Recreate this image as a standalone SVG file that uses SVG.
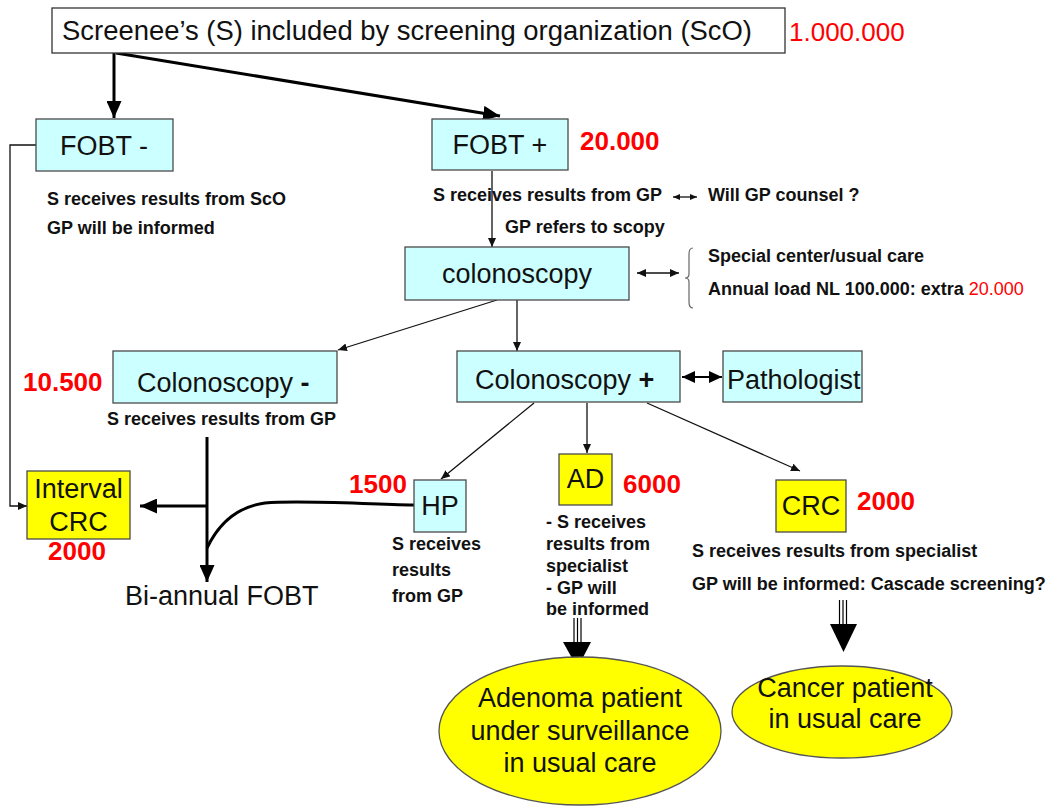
<svg xmlns="http://www.w3.org/2000/svg" width="1053" height="806" viewBox="0 0 1053 806">
<style>
.box{fill:#ccffff;stroke:#4a4a4a;stroke-width:1.3}
.ybox{fill:#ffff00;stroke:#4a4a4a;stroke-width:1.3}
.ell{fill:#ffff00;stroke:#555;stroke-width:1.3}
.lbl{font-family:"Liberation Sans",Arial,sans-serif;font-size:27px;fill:#111}
.sm{font-family:"Liberation Sans",Arial,sans-serif;font-size:18px;font-weight:bold;fill:#111}
.num{font-family:"Liberation Sans",Arial,sans-serif;font-size:26px;font-weight:bold;fill:#ff0000}
.thin{fill:none;stroke:#111;stroke-width:1.3}
.thick{fill:none;stroke:#000;stroke-width:3}
.mid{fill:none;stroke:#000;stroke-width:2}
</style>
<defs>
<marker id="ah" markerUnits="userSpaceOnUse" viewBox="0 0 9 8" refX="9" refY="4" markerWidth="9" markerHeight="8" orient="auto-start-reverse"><path d="M0,0 L9,4 L0,8 z" fill="#111"/></marker>
<marker id="ahs" markerUnits="userSpaceOnUse" viewBox="0 0 7 6" refX="7" refY="3" markerWidth="7" markerHeight="6" orient="auto-start-reverse"><path d="M0,0 L7,3 L0,6 z" fill="#111"/></marker>
<marker id="ahm" markerUnits="userSpaceOnUse" viewBox="0 0 13 12" refX="13" refY="6" markerWidth="13" markerHeight="12" orient="auto-start-reverse"><path d="M0,0 L13,6 L0,12 z" fill="#000"/></marker>
<marker id="ahb" markerUnits="userSpaceOnUse" viewBox="0 0 17 15" refX="17" refY="7.5" markerWidth="17" markerHeight="15" orient="auto"><path d="M0,0 L17,7.5 L0,15 z" fill="#000"/></marker>
</defs>

<g id="connectors">
<path class="thick" d="M114,53 V118" marker-end="url(#ahb)"/>
<path class="thick" d="M116,53 L500,116" marker-end="url(#ahb)"/>
<path class="thin" d="M36,145 H10 V506 H27" marker-end="url(#ah)"/>
<path class="thin" d="M492,171 V247" marker-end="url(#ah)"/>
<path class="thin" d="M673,197 H697" marker-start="url(#ahs)" marker-end="url(#ahs)"/>
<path class="thin" d="M637,273 H679" marker-start="url(#ah)" marker-end="url(#ah)"/>
<path class="thin" d="M497,300 L338,350" marker-end="url(#ah)"/>
<path class="thin" d="M517,300 V351" marker-end="url(#ah)"/>
<path class="mid" d="M682,377 H722" marker-start="url(#ahm)" marker-end="url(#ahm)"/>
<path class="thin" d="M534,403 L441,479" marker-end="url(#ah)"/>
<path class="thin" d="M587,403 V453" marker-end="url(#ah)"/>
<path class="thin" d="M647,403 L800,471" marker-end="url(#ah)"/>
<path class="thick" d="M207,437 V582" marker-end="url(#ahb)"/>
<path class="thick" d="M207,506 H140" marker-end="url(#ahb)"/>
<path class="thick" d="M414,505 C360,504 300,500 265,503 C235,507 218,525 207,548"/>
<path d="M693,248 Q689,248 689,254 V274 Q689,278 685,278 Q689,278 689,282 V302 Q689,308 693,308" fill="none" stroke="#666" stroke-width="1.2"/>
<g stroke="#000" stroke-width="1.2">
<line x1="574" y1="618" x2="574" y2="643"/><line x1="577.5" y1="618" x2="577.5" y2="643"/><line x1="581" y1="618" x2="581" y2="643"/>
<line x1="839.5" y1="600" x2="839.5" y2="625"/><line x1="843" y1="600" x2="843" y2="625"/><line x1="846.5" y1="600" x2="846.5" y2="625"/>
</g>
<path d="M563,642 L591,642 L577.5,668 z" fill="#000"/>
<path d="M830,624 L857,624 L843.5,652 z" fill="#000"/>
</g>

<g id="top">
<rect x="52" y="8" width="733" height="45" fill="#fff" stroke="#333" stroke-width="1.3"/>
<text class="lbl" x="62" y="40" textLength="690" lengthAdjust="spacingAndGlyphs">Screenee’s (S) included by screening organization (ScO)</text>
<text x="789" y="41" font-family="Liberation Sans, Arial, sans-serif" font-size="26" fill="#ff0000">1.000.000</text>
</g>

<g id="fobt-neg">
<rect class="box" x="36" y="119" width="137" height="52"/>
<text class="lbl" x="60" y="155">FOBT -</text>
<text class="sm" x="47" y="205">S receives results from ScO</text>
<text class="sm" x="47" y="234">GP will be informed</text>
</g>

<g id="fobt-pos">
<rect class="box" x="432" y="119" width="136" height="51"/>
<text class="lbl" x="500" y="154" text-anchor="middle">FOBT +</text>
<text class="num" x="580" y="150">20.000</text>
<text class="sm" x="433" y="201">S receives results from GP</text>
<text class="sm" x="708" y="201">Will GP counsel ?</text>
<text class="sm" x="505" y="233">GP refers to scopy</text>
</g>

<g id="colonoscopy">
<rect class="box" x="405" y="247" width="224" height="53"/>
<text class="lbl" x="517" y="283" text-anchor="middle">colonoscopy</text>
<text class="sm" x="708" y="262">Special center/usual care</text>
<text class="sm" x="708" y="295">Annual load NL 100.000: extra <tspan fill="#ff0000" font-weight="normal">20.000</tspan></text>
</g>

<g id="colonoscopy-neg">
<rect class="box" x="113" y="351" width="224" height="52"/>
<text class="lbl" x="137" y="392">Colonoscopy <tspan font-weight="bold">-</tspan></text>
<text class="num" x="23" y="391">10.500</text>
<text class="sm" x="107" y="425">S receives results from GP</text>
</g>

<g id="colonoscopy-pos">
<rect class="box" x="457" y="351" width="223" height="51"/>
<text class="lbl" x="475" y="389">Colonoscopy <tspan font-weight="bold">+</tspan></text>
</g>

<g id="pathologist">
<rect class="box" x="723" y="351" width="139" height="51"/>
<text class="lbl" x="727" y="389">Pathologist</text>
</g>

<g id="interval-crc">
<rect class="ybox" x="27" y="471" width="103" height="68"/>
<text class="lbl" x="78.5" y="498" text-anchor="middle">Interval</text>
<text class="lbl" x="78.5" y="531" text-anchor="middle">CRC</text>
<text class="num" x="77" y="560" text-anchor="middle">2000</text>
</g>

<g id="bi-annual">
<text class="lbl" x="125" y="605">Bi-annual FOBT</text>
</g>

<g id="hp">
<rect class="box" x="414" y="480" width="52" height="52"/>
<text class="lbl" x="440" y="515" text-anchor="middle" font-size="25">HP</text>
<text class="num" x="349" y="493">1500</text>
<text class="sm" x="392" y="550">S receives</text>
<text class="sm" x="392" y="576">results</text>
<text class="sm" x="392" y="602">from GP</text>
</g>

<g id="ad">
<rect class="ybox" x="559" y="454" width="53" height="51"/>
<text class="lbl" x="585.5" y="488" text-anchor="middle" font-size="26">AD</text>
<text class="num" x="623" y="493">6000</text>
<text class="sm" x="546" y="528">- S receives</text>
<text class="sm" x="546" y="550">results from</text>
<text class="sm" x="546" y="572">specialist</text>
<text class="sm" x="546" y="594">- GP will</text>
<text class="sm" x="546" y="615">be informed</text>
</g>

<g id="crc">
<rect class="ybox" x="776" y="480" width="70" height="52"/>
<text class="lbl" x="811" y="515" text-anchor="middle">CRC</text>
<text class="num" x="857" y="510">2000</text>
<text class="sm" x="692" y="557">S receives results from specialist</text>
<text class="sm" x="692" y="590">GP will be informed: Cascade screening?</text>
</g>

<g id="adenoma">
<ellipse class="ell" cx="580" cy="731" rx="141" ry="74"/>
<text class="lbl" x="580" y="707" text-anchor="middle">Adenoma patient</text>
<text class="lbl" x="580" y="740" text-anchor="middle">under surveillance</text>
<text class="lbl" x="580" y="772" text-anchor="middle">in usual care</text>
</g>

<g id="cancer">
<ellipse class="ell" cx="842" cy="712" rx="110" ry="46"/>
<text class="lbl" x="845" y="697" text-anchor="middle">Cancer patient</text>
<text class="lbl" x="845" y="728" text-anchor="middle">in usual care</text>
</g>
</svg>
